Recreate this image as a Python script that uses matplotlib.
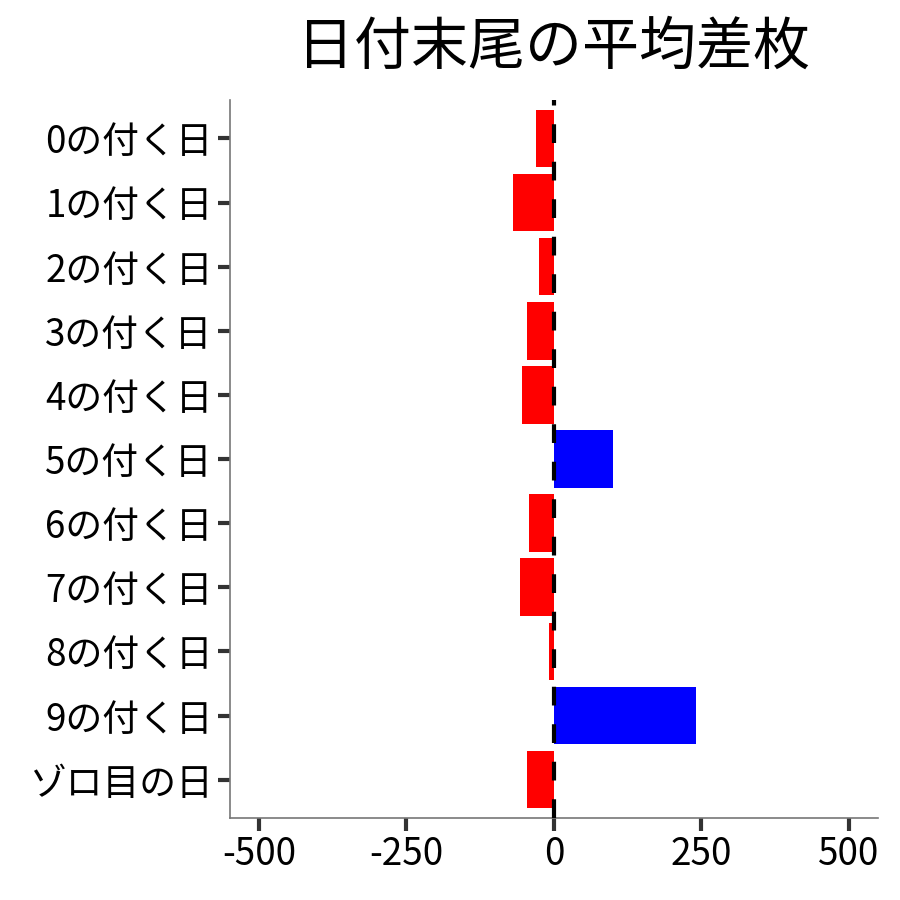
import matplotlib
matplotlib.use("Agg")
import matplotlib.pyplot as plt

plt.rcParams['font.family'] = ['Noto Sans CJK JP', 'DejaVu Sans']

# 日付末尾ごとの平均差枚
labels = ["0の付く日", "1の付く日", "2の付く日", "3の付く日", "4の付く日",
          "5の付く日", "6の付く日", "7の付く日", "8の付く日", "9の付く日", "ゾロ目の日"]
values = [-31, -69, -26, -46, -54, 100, -43, -58, -9, 240, -45]
xticks = [-500, -250, 0, 250, 500]
xticklabels = ["-500", "-250", "0", "250", "500"]

colors = ["#0000FF" if v > 0 else "#FF0000" for v in values]

fig = plt.figure(figsize=(9, 9), dpi=100)
ax = fig.add_axes([0.255, 0.091, 0.721, 0.798])

pos = list(range(len(labels)))
ax.barh(pos, values, height=0.9, color=colors, zorder=2)
ax.axvline(0, color="black", linestyle=(0, (4.5, 4.5)), linewidth=3, zorder=3)

ax.set_yticks(pos)
ax.set_yticklabels(labels, fontsize=26.5)
ax.set_xticks(xticks)
ax.set_xticklabels(xticklabels, fontsize=26.5)
ax.set_ylim(len(labels) - 0.4, -0.6)
ax.set_xlim(-550, 550)

for s in ["top", "right"]:
    ax.spines[s].set_visible(False)
for s in ["left", "bottom"]:
    ax.spines[s].set_color("#777777")
    ax.spines[s].set_linewidth(1.2)
ax.tick_params(axis="both", length=9, width=3, color="#333333", pad=3)

ax.set_title("日付末尾の平均差枚", fontsize=41, pad=26)

fig.savefig("out.png", dpi=100)
